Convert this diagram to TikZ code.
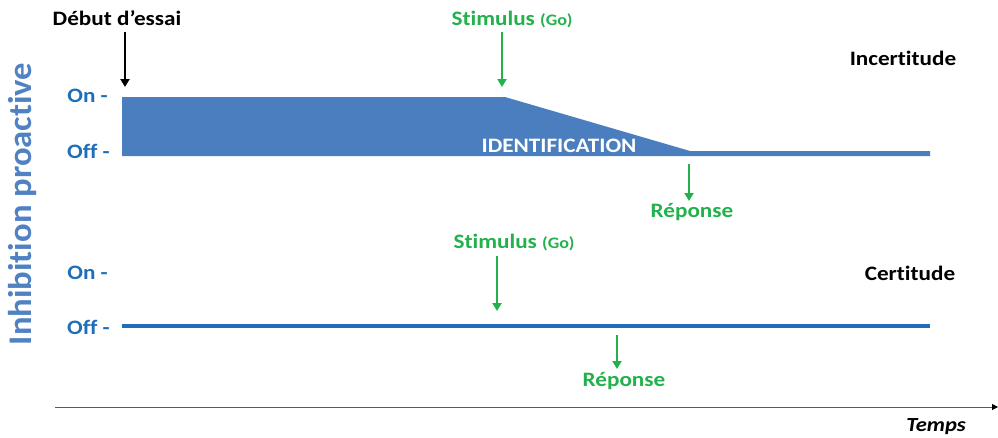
\documentclass[tikz,border=0pt]{standalone}
\usepackage{fontspec}
\setmainfont[FakeStretch=1.13,Ligatures=NoCommon]{Carlito}
\newfontfamily\titlefont[FakeStretch=1.05,Ligatures=NoCommon]{Carlito}
\usetikzlibrary{arrows.meta}
\definecolor{fillblue}{RGB}{74,126,190}
\definecolor{lineblue}{RGB}{31,110,185}
\definecolor{labblue}{RGB}{30,110,185}
\definecolor{titleblue}{RGB}{80,130,195}
\definecolor{gogreen}{RGB}{34,177,76}
\definecolor{axisgray}{RGB}{90,90,90}
\tikzset{
  lab/.style={font=\bfseries\fontsize{20.5}{23}\selectfont, inner sep=0pt},
  greenlab/.style={lab, text=gogreen},
  blacklab/.style={lab, text=black},
  levlab/.style={lab, text=labblue, anchor=east},
  garrow/.style={draw=gogreen, line width=2.4pt, -{Triangle[length=8pt,width=9pt]}},
  barrow/.style={draw=black, line width=2.4pt, -{Triangle[length=8pt,width=9pt]}},
}
\newcommand{\gosmall}{{\fontsize{16}{18}\selectfont(Go)}}
\begin{document}
\begin{tikzpicture}[x=1pt,y=-1pt]
\useasboundingbox (0,0) rectangle (998,437);
% vertical title
\node[rotate=90, text=titleblue, font=\titlefont\bfseries\fontsize{33}{36}\selectfont, inner sep=0pt] (title) at (23,204) {Inhibition proactive};
% upper panel
\fill[fillblue] (122,97) -- (505,97) -- (690,151) -- (930,151) -- (930,156) -- (122,156) -- cycle;
\node[lab, text=white] (ident) at (559,146) {IDENTIFICATION};
\node[levlab] (on1) at (108,96) {On -};
\node[levlab] (off1) at (110,151) {Off -};
\node[blacklab] (debut) at (117,18) {Début d’essai};
\coordinate (debutstart) at (125,32);
\coordinate (debutend) at (125,87);
\draw[barrow] (debutstart) -- (debutend);
\node[greenlab] (stim1) at (512,20) {Stimulus \gosmall};
\coordinate (stim1start) at (502,32);
\coordinate (stim1end) at (502,87);
\draw[garrow] (stim1start) -- (stim1end);
\node[blacklab] (incert) at (903,58) {Incertitude};
\coordinate (rep1start) at (689,164);
\coordinate (rep1end) at (689,201);
\node[greenlab] (rep1) at (692,212) {Réponse};
\draw[garrow] (rep1start) -- (rep1end);
% lower panel
\node[levlab] (on2) at (108,273) {On -};
\node[levlab] (off2) at (110,327) {Off -};
\coordinate (l2a) at (122,326);
\coordinate (l2b) at (930,326);
\draw[lineblue, line width=4pt] (l2a) -- (l2b);
\node[greenlab] (stim2) at (514,243) {Stimulus \gosmall};
\coordinate (stim2start) at (497,256);
\coordinate (stim2end) at (497,311);
\draw[garrow] (stim2start) -- (stim2end);
\node[blacklab] (cert) at (910,273) {Certitude};
\coordinate (rep2start) at (617,335);
\coordinate (rep2end) at (617,369);
\node[greenlab] (rep2) at (624,381) {Réponse};
\draw[garrow] (rep2start) -- (rep2end);
% time axis
\coordinate (axstart) at (55,407);
\coordinate (axend) at (998,407);
\draw[axisgray, line width=1pt, -{Triangle[length=6pt,width=6pt,color=black]}] (axstart) -- (axend);
\node[lab, font=\bfseries\itshape\fontsize{20}{22}\selectfont] (temps) at (936,427) {Temps};
\end{tikzpicture}
\end{document}
